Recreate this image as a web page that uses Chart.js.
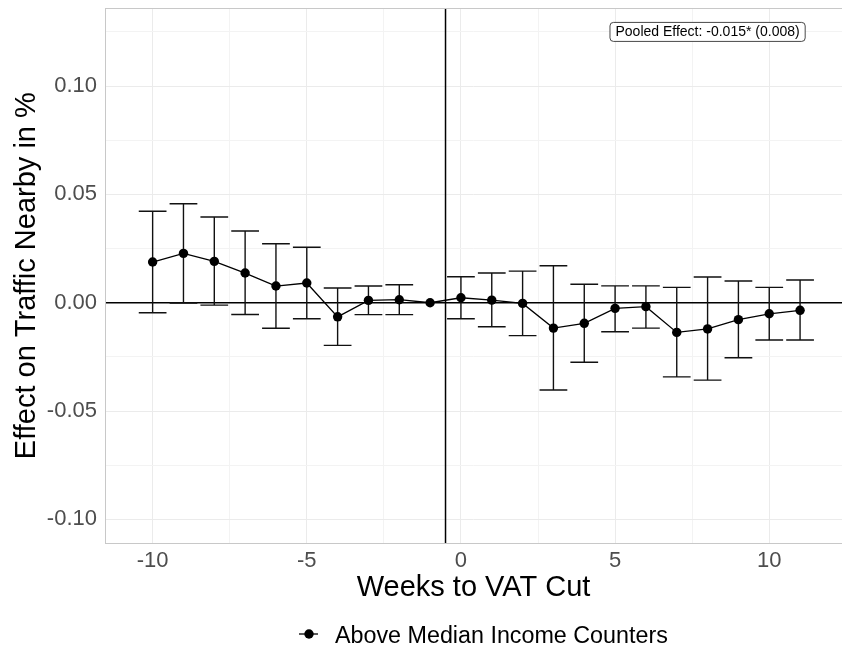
<!DOCTYPE html>
<html>
<head>
<meta charset="utf-8">
<script src="https://cdn.jsdelivr.net/npm/chart.js@4.4.1/dist/chart.umd.min.js"></script>
<style>
html,body{margin:0;padding:0;background:#ffffff;}
#wrap{width:842px;height:648px;}
</style>
</head>
<body>
<div id="wrap"><canvas id="c" width="842" height="648"></canvas></div>
<script>
// ---- data ----
const weeks     = [-10,-9,-8,-7,-6,-5,-4,-3,-2,-1,0,1,2,3,4,5,6,7,8,9,10,11];
const estimates = [0.0188,0.0228,0.0191,0.0137,0.0077,0.0091,-0.0065,0.0011,0.0014,0.0000,0.0023,0.0012,-0.0003,-0.0117,-0.0095,-0.0026,-0.0018,-0.0137,-0.0121,-0.0078,-0.0051,-0.0035];
const ciUpper   = [0.0422,0.0457,0.0396,0.0331,0.0272,0.0256,0.0068,0.0077,0.0083,null,0.0120,0.0137,0.0146,0.0171,0.0085,0.0078,0.0078,0.0071,0.0119,0.0100,0.0071,0.0105];
const ciLower   = [-0.0046,-0.0001,-0.0011,-0.0054,-0.0118,-0.0074,-0.0197,-0.0055,-0.0055,null,-0.0074,-0.0111,-0.0152,-0.0403,-0.0275,-0.0134,-0.0117,-0.0342,-0.0357,-0.0254,-0.0172,-0.0172];
const seriesName = 'Above Median Income Counters';

const xMajorTicks = [-10,-5,0,5,10];
const xTickLabels = ['-10','-5','0','5','10'];
const xMinorTicks = [-7.5,-2.5,2.5,7.5];
const yMajorTicks = [-0.10,-0.05,0,0.05,0.10];
const yTickLabels = ['-0.10','-0.05','0.00','0.05','0.10'];
const yMinorTicks = [-0.075,-0.025,0.025,0.075,0.125];

const xTitle = 'Weeks to VAT Cut';
const yTitle = 'Effect on Traffic Nearby in %';
const pooledText = 'Pooled Effect: -0.015* (0.008)';
const pooledPos = {x: 8, y: 0.125};
const vlineX = -0.5;
const hlineY = 0;
const errorBarWidth = 0.9;

// ---- styling ----
const FONT = "'Liberation Sans', Arial, Helvetica, sans-serif";
const near = (a, b) => Math.abs(a - b) < 1e-9;
const inList = (v, list) => list.some(t => near(t, v));

const overlay = {
  id: 'overlay',
  beforeDatasetsDraw(chart) {
    const {ctx, chartArea: a, scales: {x, y}} = chart;
    ctx.save();
    ctx.beginPath();
    ctx.rect(a.left, a.top, a.right - a.left, a.bottom - a.top);
    ctx.clip();
    // reference lines
    ctx.strokeStyle = '#000';
    ctx.lineWidth = 1.5;
    ctx.beginPath();
    const hy = y.getPixelForValue(hlineY);
    ctx.moveTo(a.left, hy); ctx.lineTo(a.right, hy);
    const vx = x.getPixelForValue(vlineX);
    ctx.moveTo(vx, a.top); ctx.lineTo(vx, a.bottom);
    ctx.stroke();
    // error bars
    ctx.strokeStyle = '#111';
    ctx.lineWidth = 1.4;
    ctx.beginPath();
    weeks.forEach((w, i) => {
      if (ciUpper[i] === null || ciLower[i] === null) return;
      const cx = x.getPixelForValue(w);
      const x0 = x.getPixelForValue(w - errorBarWidth / 2);
      const x1 = x.getPixelForValue(w + errorBarWidth / 2);
      const yu = y.getPixelForValue(ciUpper[i]);
      const yl = y.getPixelForValue(ciLower[i]);
      ctx.moveTo(cx, yu); ctx.lineTo(cx, yl);
      ctx.moveTo(x0, yu); ctx.lineTo(x1, yu);
      ctx.moveTo(x0, yl); ctx.lineTo(x1, yl);
    });
    ctx.stroke();
    ctx.restore();
  },
  afterDatasetsDraw(chart) {
    const {ctx, chartArea: a, scales: {x, y}} = chart;
    ctx.save();
    // panel border (right edge falls outside the picture)
    ctx.strokeStyle = '#C8C8C8';
    ctx.lineWidth = 1;
    ctx.strokeRect(Math.round(a.left) + 0.5, Math.round(a.top) + 0.5, a.right - a.left + 10, Math.round(a.bottom - a.top));
    // pooled effect label
    ctx.font = '14px ' + FONT;
    const tw = ctx.measureText(pooledText).width;
    const cx = x.getPixelForValue(pooledPos.x);
    const cy = y.getPixelForValue(pooledPos.y);
    const padX = 5.5, h = 19, r = 3.5;
    const bx = cx - tw / 2 - padX, by = cy - h / 2, bw = tw + 2 * padX;
    ctx.fillStyle = '#fff';
    ctx.strokeStyle = '#333';
    ctx.lineWidth = 0.9;
    ctx.beginPath();
    ctx.roundRect(bx, by, bw, h, r);
    ctx.fill();
    ctx.stroke();
    ctx.fillStyle = '#000';
    ctx.textAlign = 'center';
    ctx.textBaseline = 'middle';
    ctx.fillText(pooledText, cx, cy + 0.5);
    ctx.restore();
  },
  afterDraw(chart) {
    const {ctx} = chart;
    ctx.save();
    // legend
    const ly = 634;
    ctx.strokeStyle = '#000';
    ctx.lineWidth = 1.3;
    ctx.beginPath();
    ctx.moveTo(299, ly); ctx.lineTo(318, ly);
    ctx.stroke();
    ctx.fillStyle = '#000';
    ctx.beginPath();
    ctx.arc(309, ly, 4.7, 0, Math.PI * 2);
    ctx.fill();
    ctx.font = '23.3px ' + FONT;
    ctx.textAlign = 'left';
    ctx.textBaseline = 'alphabetic';
    ctx.fillText(seriesName, 335, 642.7);
    ctx.restore();
  }
};

new Chart(document.getElementById('c'), {
  type: 'line',
  data: {
    datasets: [{
      label: seriesName,
      data: weeks.map((w, i) => ({x: w, y: estimates[i]})),
      borderColor: '#000',
      backgroundColor: '#000',
      borderWidth: 1.3,
      pointRadius: 4.7,
      pointHoverRadius: 4.7,
      pointBorderWidth: 0,
      tension: 0
    }]
  },
  options: {
    responsive: false,
    animation: false,
    devicePixelRatio: 1,
    layout: {autoPadding: false, padding: {top: 8.3, right: 0, bottom: 0, left: 0}},
    plugins: {legend: {display: false}, tooltip: {enabled: false}},
    scales: {
      x: {
        type: 'linear',
        min: -11.545,
        max: 12.36,
        afterBuildTicks: s => { s.ticks = [...xMajorTicks, ...xMinorTicks].sort((a, b) => a - b).map(v => ({value: v})); },
        afterFit: s => { s.height = 105; s.paddingLeft = 0; s.paddingRight = 0; s.paddingTop = 0; s.paddingBottom = 0; },
        ticks: {
          autoSkip: false, maxRotation: 0, padding: 5,
          color: '#4D4D4D', font: {family: FONT, size: 22},
          callback: v => { const i = xMajorTicks.findIndex(t => near(t, v)); return i >= 0 ? xTickLabels[i] : ''; }
        },
        grid: {
          drawTicks: false,
          color: c => inList(c.tick.value, xMajorTicks) ? '#EBEBEB' : '#F3F3F3',
          lineWidth: 1
        },
        border: {display: false},
        title: {display: true, text: xTitle, color: '#000', font: {family: FONT, size: 29}, padding: {top: 0, bottom: 43}}
      },
      y: {
        type: 'linear',
        min: -0.1109,
        max: 0.1359,
        afterBuildTicks: s => { s.ticks = [...yMajorTicks, ...yMinorTicks].sort((a, b) => a - b).map(v => ({value: v})); },
        afterFit: s => { s.width = 105; s.paddingLeft = 0; s.paddingRight = 0; s.paddingTop = 0; s.paddingBottom = 0; },
        ticks: {
          autoSkip: false, padding: 8,
          color: '#4D4D4D', font: {family: FONT, size: 22},
          callback: v => { const i = yMajorTicks.findIndex(t => near(t, v)); return i >= 0 ? yTickLabels[i] : ''; }
        },
        grid: {
          drawTicks: false,
          color: c => inList(c.tick.value, yMajorTicks) ? '#EBEBEB' : '#F3F3F3',
          lineWidth: 1
        },
        border: {display: false},
        title: {display: true, text: yTitle, color: '#000', font: {family: FONT, size: 29}, padding: {top: 9.6, bottom: 0}}
      }
    }
  },
  plugins: [overlay]
});
</script>
</body>
</html>
